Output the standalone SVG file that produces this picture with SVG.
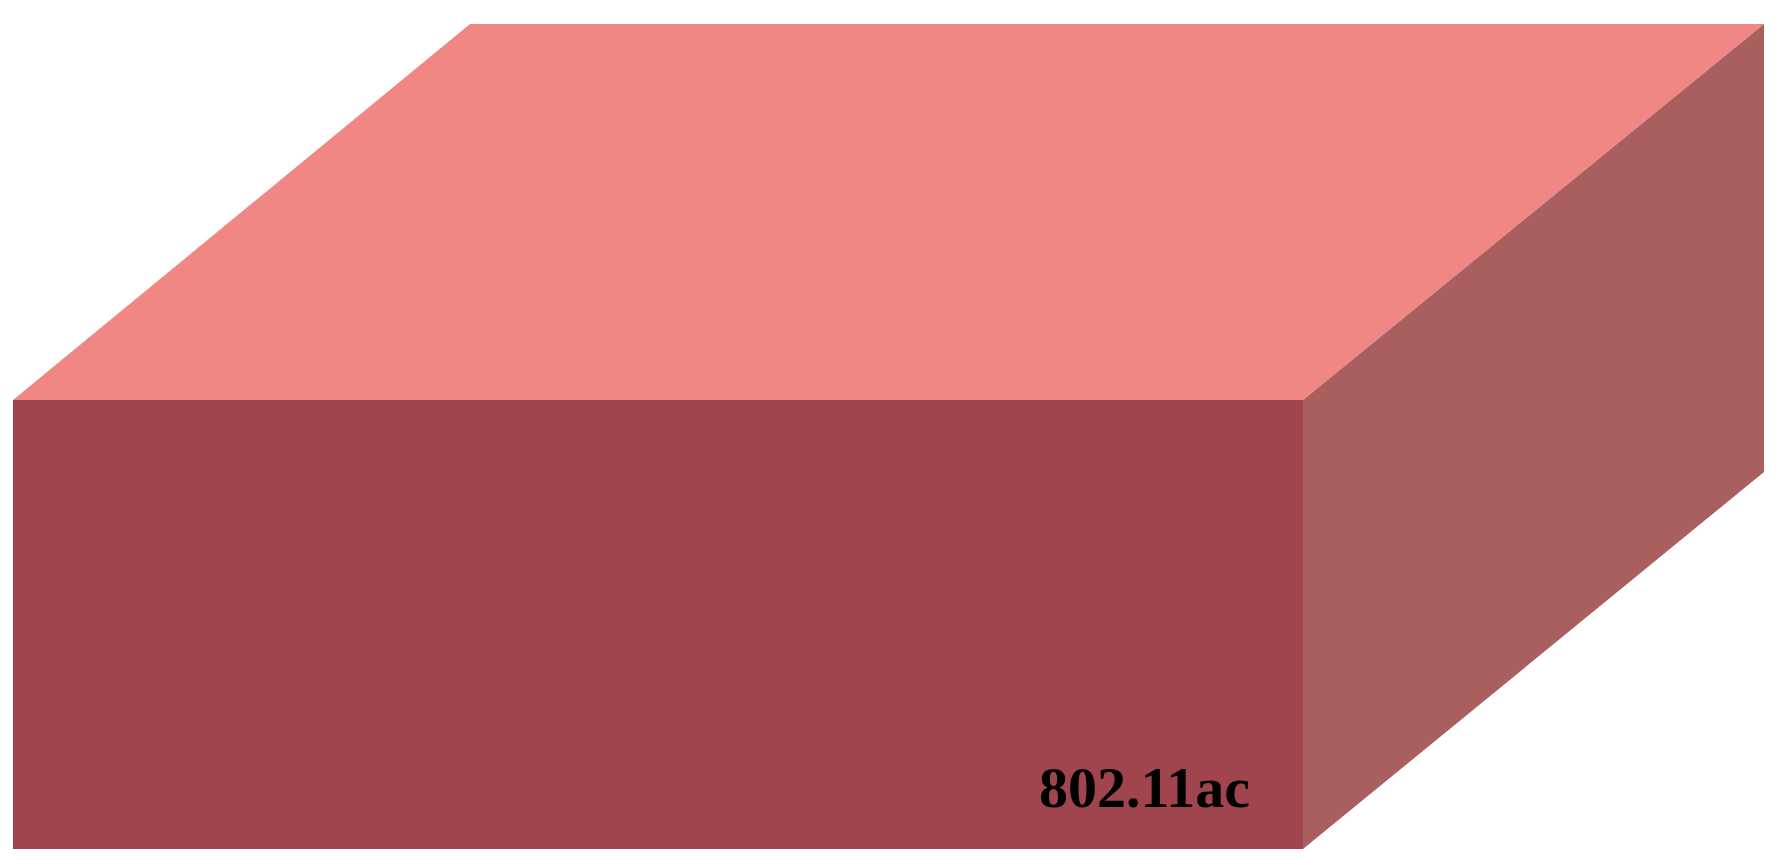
<svg xmlns="http://www.w3.org/2000/svg" width="1776" height="860" viewBox="0 0 1776 860">
  <style>
    .top { fill: #F08784; }
    .front { fill: #A0454D; }
    .side { fill: #AA5F5F; }
    .label { font-family: "Liberation Serif", "Times New Roman", serif; font-weight: bold; font-size: 58px; fill: #000000; }
  </style>
  <rect width="1776" height="860" fill="#FFFFFF"/>
  <g id="box">
    <polygon class="top" points="13,400 470,24 1764,24 1303,400"/>
    <polygon class="side" points="1303,400 1764,24 1764,472 1303,849"/>
    <rect class="front" x="13" y="400" width="1290" height="449"/>
  </g>
  <g id="label">
    <text class="label" x="1250" y="807" text-anchor="end">802.11ac</text>
  </g>
  <g id="connectors"></g>
</svg>
